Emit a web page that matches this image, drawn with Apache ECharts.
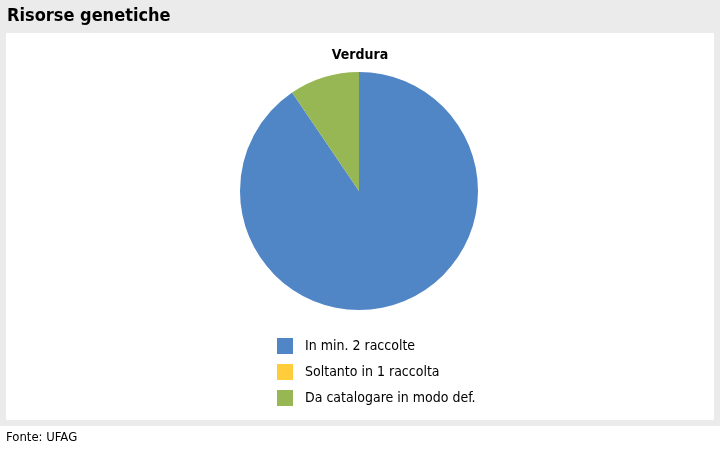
<!DOCTYPE html>
<html>
<head>
<meta charset="utf-8">
<script src="https://cdn.jsdelivr.net/npm/echarts@6/dist/echarts.min.js"></script>
<style>
  html, body { margin: 0; padding: 0; background: #fff; }
  #bg { position: absolute; left: 0; top: 0; width: 720px; height: 426px; background: #ebebeb; }
  #panel { position: absolute; left: 6px; top: 33px; width: 708px; height: 387px; background: #fff; }
  #chart { position: absolute; left: 0; top: 0; width: 720px; height: 449px; }
</style>
</head>
<body>
<div id="bg"></div>
<div id="panel"></div>
<div id="chart"></div>
<script>
  const font = "'Liberation Sans Narrow', 'DejaVu Sans Condensed', 'Noto Sans', sans-serif";

  const categories = ["In min. 2 raccolte", "Soltanto in 1 raccolta", "Da catalogare in modo def."];
  const values = [90.5, 0, 9.5];
  const colors = ["#5186c6", "#ffcc3c", "#97b754"];

  const chart = echarts.init(document.getElementById("chart"));

  const option = {
    backgroundColor: "transparent",
    animation: false,
    color: colors,
    title: {
      text: "Verdura",
      left: 360,
      textAlign: "center",
      top: 48,
      padding: 0,
      textStyle: { fontFamily: font, fontSize: 14, fontWeight: "bold", color: "#000" },
    },
    legend: {
      orient: "vertical",
      left: 277,
      top: 338,
      padding: 0,
      itemWidth: 16,
      itemHeight: 16,
      itemGap: 10,
      icon: "rect",
      data: categories,
      textStyle: { fontFamily: font, fontSize: 14, color: "#000", padding: [0, 0, 0, 7] },
    },
    graphic: [
      {
        type: "text",
        left: 7,
        top: 7,
        style: { text: "Risorse genetiche", font: "bold 18px " + font, fill: "#000" },
      },
      {
        type: "text",
        left: 6,
        top: 431,
        style: { text: "Fonte: UFAG", font: "13px " + font, fill: "#000" },
      },
    ],
    series: [
      {
        type: "pie",
        center: [359, 191],
        radius: 119,
        startAngle: 90,
        clockwise: true,
        label: { show: false },
        labelLine: { show: false },
        emphasis: { disabled: true },
        data: categories.map((name, i) => ({ name: name, value: values[i] })),
      },
    ],
  };

  chart.setOption(option);
</script>
</body>
</html>
